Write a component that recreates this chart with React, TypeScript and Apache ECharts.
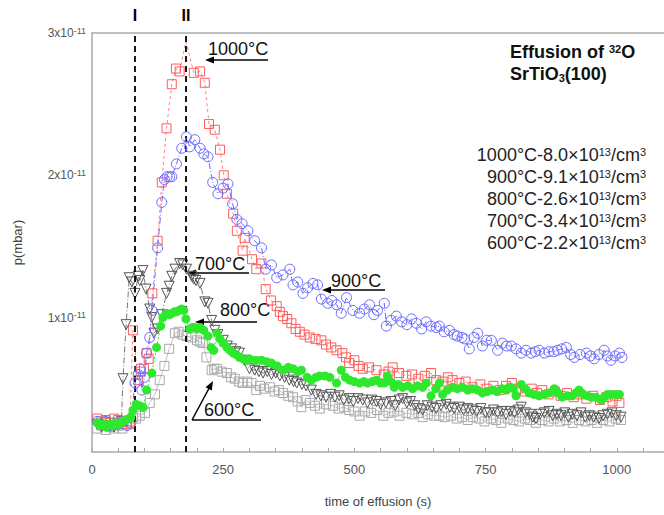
import React, { useEffect, useRef } from 'react';
import * as echarts from 'echarts';

const FONT = '"Liberation Sans", Arial, Helvetica, sans-serif';

// values in units of 1e-11 mbar, time in s
const s1000: number[][] = [
  [10,0.29],[18,0.27],[26,0.28],[34,0.26],[42,0.29],[50,0.28],[58,0.25],[66,0.27],[72,0.25],[78,0.91],[88,0.56],[93,0.62],[99,0.64],[104,0.75],[108,0.71],[115,1.17],[125,1.54],[133,1.95],[142,2.33],[152,2.64],[160,2.75],[167,2.73],[179,2.94],[194,2.72],[206,2.73],[215,2.65],[223,2.36],[234,2.32],[244,2.18],[251,2.0],[257,1.87],[269,1.73],[276,1.61],[287,1.47],[291,1.56],[305,1.41],[313,1.34],[323,1.38],[331,1.2],[341,1.12],[352,1.08],[358,1.04],[364,1.01],[372,0.99],[380,0.96],[388,0.92],[396,0.90],[405,0.88],[415,0.86],[426,0.85],[437,0.84],[446,0.81],[456,0.79],[466,0.77],[477,0.75],[484,0.72],[490,0.68],[500,0.70],[508,0.66],[516,0.64],[528,0.65],[542,0.63],[556,0.60],[565,0.62],[573,0.65],[585,0.61],[599,0.59],[610,0.60],[622,0.57],[634,0.59],[646,0.61],[656,0.56],[668,0.55],[678,0.58],[687,0.56],[700,0.54],[712,0.55],[725,0.51],[740,0.53],[752,0.50],[765,0.52],[777,0.49],[789,0.52],[800,0.54],[812,0.50],[825,0.48],[838,0.50],[848,0.47],[858,0.49],[870,0.46],[882,0.48],[893,0.45],[905,0.47],[918,0.44],[930,0.46],[942,0.43],[955,0.45],[968,0.42],[980,0.44],[992,0.41],[1000,0.45],[1005,0.40]
];

const s900: number[][] = [
  [10,0.27],[18,0.25],[26,0.27],[34,0.24],[42,0.26],[50,0.25],[58,0.27],[66,0.24],[74,0.26],[82,0.54],[88,0.60],[91,0.64],[95,0.49],[100,0.58],[104,0.75],[110,0.86],[114,1.05],[125,1.49],[133,1.81],[138,1.97],[143,1.99],[148,1.99],[152,1.99],[161,2.08],[171,2.19],[180,2.27],[186,2.20],[196,2.25],[206,2.19],[213,2.15],[221,2.13],[230,1.95],[240,1.87],[250,1.91],[259,1.94],[268,1.80],[276,1.69],[286,1.66],[297,1.61],[310,1.54],[323,1.49],[331,1.34],[342,1.37],[352,1.28],[364,1.30],[377,1.34],[383,1.23],[392,1.25],[402,1.17],[411,1.21],[421,1.24],[430,1.23],[437,1.13],[449,1.10],[457,1.12],[466,1.09],[475,1.03],[485,1.14],[497,1.05],[510,1.03],[519,1.06],[529,1.09],[537,1.02],[544,1.05],[557,1.10],[561,0.94],[570,0.98],[580,1.01],[590,0.97],[600,0.95],[609,0.99],[618,0.96],[628,0.92],[637,0.97],[646,0.94],[656,0.93],[662,0.94],[671,0.90],[681,0.91],[690,0.88],[696,0.87],[705,0.86],[710,0.85],[719,0.78],[728,0.86],[735,0.89],[744,0.80],[752,0.84],[761,0.84],[773,0.77],[782,0.82],[790,0.80],[799,0.80],[808,0.78],[818,0.75],[827,0.77],[837,0.75],[845,0.76],[852,0.77],[862,0.75],[871,0.76],[880,0.76],[887,0.77],[895,0.78],[904,0.79],[912,0.74],[919,0.72],[930,0.74],[942,0.75],[950,0.73],[957,0.71],[966,0.74],[976,0.77],[982,0.73],[989,0.70],[997,0.73],[1005,0.75],[1010,0.72]
];

const s800: number[][] = [
  [10,0.26],[16,0.24],[22,0.25],[28,0.23],[34,0.25],[40,0.24],[46,0.26],[52,0.25],[58,0.27],[64,0.28],[70,0.29],[74,0.30],[78,0.35],[84,0.39],[91,0.38],[97,0.37],[104,0.49],[114,0.61],[123,0.79],[131,0.94],[135,1.0],[142,1.03],[148,1.02],[152,1.03],[157,1.04],[161,1.04],[166,1.05],[171,1.06],[175,1.05],[179,0.99],[186,0.92],[191,0.93],[196,0.93],[201,0.92],[206,0.93],[213,0.91],[221,0.87],[227,0.79],[232,0.77],[238,0.89],[244,0.85],[250,0.82],[257,0.79],[263,0.77],[269,0.75],[275,0.74],[281,0.72],[288,0.71],[294,0.70],[300,0.71],[312,0.70],[323,0.70],[333,0.69],[342,0.68],[353,0.66],[364,0.63],[374,0.65],[383,0.64],[392,0.62],[399,0.63],[410,0.58],[418,0.56],[427,0.58],[434,0.59],[444,0.59],[453,0.58],[466,0.54],[475,0.63],[483,0.58],[491,0.56],[500,0.55],[510,0.54],[518,0.55],[525,0.54],[534,0.55],[542,0.56],[550,0.54],[557,0.54],[563,0.59],[570,0.55],[576,0.51],[584,0.53],[592,0.51],[602,0.52],[611,0.50],[620,0.52],[630,0.51],[637,0.54],[646,0.45],[655,0.50],[662,0.54],[668,0.46],[677,0.49],[687,0.51],[696,0.50],[706,0.51],[716,0.49],[725,0.50],[735,0.49],[744,0.47],[753,0.48],[763,0.49],[772,0.48],[782,0.50],[790,0.49],[795,0.51],[803,0.50],[808,0.45],[818,0.53],[825,0.50],[833,0.47],[842,0.46],[852,0.45],[862,0.46],[871,0.47],[881,0.50],[888,0.47],[896,0.44],[906,0.45],[915,0.45],[922,0.47],[928,0.49],[936,0.46],[944,0.45],[952,0.44],[960,0.44],[970,0.42],[976,0.44],[982,0.46],[990,0.46],[998,0.46],[1005,0.46]
];

const s700: number[][] = [
  [10,0.25],[18,0.23],[26,0.26],[34,0.24],[42,0.23],[50,0.25],[56,0.27],[59,0.57],[65,0.95],[71,1.28],[76,1.25],[82,1.17],[88,1.29],[91,1.26],[97,1.33],[103,1.20],[110,1.06],[114,1.00],[118,0.89],[125,0.92],[133,1.02],[142,1.17],[147,1.22],[152,1.29],[158,1.34],[167,1.38],[173,1.37],[180,1.34],[190,1.29],[194,1.27],[198,1.26],[206,1.24],[215,1.11],[221,1.10],[228,0.98],[234,0.91],[240,0.88],[250,0.84],[258,0.80],[266,0.78],[274,0.76],[281,0.75],[290,0.70],[300,0.64],[310,0.63],[318,0.62],[326,0.61],[334,0.62],[342,0.60],[350,0.61],[358,0.59],[367,0.58],[376,0.56],[384,0.55],[390,0.54],[400,0.53],[408,0.52],[418,0.49],[427,0.46],[436,0.45],[446,0.44],[455,0.46],[463,0.44],[471,0.45],[480,0.42],[490,0.43],[498,0.41],[507,0.43],[516,0.42],[525,0.40],[533,0.42],[542,0.41],[550,0.39],[560,0.40],[570,0.41],[578,0.38],[585,0.42],[592,0.43],[600,0.40],[607,0.41],[615,0.38],[622,0.36],[630,0.35],[639,0.38],[648,0.37],[656,0.36],[665,0.38],[675,0.39],[682,0.37],[690,0.36],[700,0.37],[708,0.35],[716,0.36],[725,0.35],[733,0.34],[741,0.36],[750,0.33],[757,0.33],[765,0.35],[773,0.33],[781,0.34],[789,0.32],[797,0.34],[805,0.33],[812,0.35],[818,0.37],[826,0.33],[834,0.32],[840,0.30],[846,0.29],[854,0.32],[862,0.33],[871,0.34],[878,0.31],[886,0.32],[894,0.31],[901,0.33],[908,0.30],[915,0.32],[924,0.31],[932,0.33],[940,0.30],[948,0.31],[956,0.30],[966,0.29],[974,0.31],[982,0.32],[991,0.33],[999,0.31],[1008,0.30]
];

const s600: number[][] = [
  [10,0.22],[18,0.24],[26,0.21],[34,0.23],[42,0.22],[50,0.24],[58,0.22],[66,0.25],[72,0.27],[78,0.30],[84,0.29],[91,0.31],[101,0.33],[110,0.40],[120,0.46],[129,0.56],[138,0.66],[147,0.78],[158,0.89],[165,0.90],[172,0.88],[180,0.87],[190,0.86],[200,0.84],[206,0.83],[211,0.82],[218,0.72],[228,0.63],[233,0.64],[238,0.64],[247,0.62],[257,0.61],[265,0.58],[272,0.57],[280,0.55],[287,0.54],[296,0.55],[304,0.54],[313,0.49],[320,0.52],[328,0.50],[339,0.51],[348,0.48],[356,0.49],[364,0.47],[374,0.45],[383,0.44],[392,0.41],[399,0.37],[407,0.42],[415,0.40],[425,0.38],[434,0.36],[446,0.39],[459,0.38],[470,0.36],[480,0.37],[490,0.35],[500,0.34],[510,0.31],[520,0.34],[532,0.33],[543,0.35],[555,0.31],[565,0.33],[576,0.34],[586,0.31],[599,0.33],[610,0.32],[622,0.33],[630,0.30],[640,0.32],[652,0.31],[662,0.31],[672,0.30],[684,0.31],[695,0.29],[705,0.30],[716,0.28],[726,0.30],[738,0.29],[748,0.27],[760,0.29],[770,0.28],[780,0.26],[792,0.29],[803,0.28],[814,0.27],[825,0.29],[835,0.28],[846,0.26],[858,0.28],[870,0.27],[880,0.29],[892,0.27],[904,0.28],[916,0.26],[928,0.28],[940,0.27],[952,0.28],[962,0.26],[974,0.28],[986,0.27],[998,0.29],[1008,0.28]
];

const xLabelValues = [0, 250, 500, 750, 1000];
const xTickValues = [0,50,100,150,200,250,300,350,400,450,500,550,600,650,700,750,800,850,900,950,1000,1050];
const yLabelValues = [1, 2, 3];
const stageLines = [{ t: 82, label: 'I' }, { t: 179, label: 'II' }];
const legendTemps = ['1000°C', '900°C', '800°C', '700°C', '600°C'];
const legendDensities = ['8.0', '9.1', '2.6', '3.4', '2.2'];
const annotationLabels = ['1000°C', '700°C', '800°C', '900°C', '600°C'];

export default function App() {
  const ref = useRef<HTMLDivElement>(null);
  useEffect(() => {
    document.body.style.margin = '0';
    document.body.style.overflow = 'hidden';
    const chart = echarts.init(ref.current!, undefined, { renderer: 'svg' });
    const axisGray = '#aaaaaa';
    const labelGray = '#555555';

    const peakIdx = s1000.reduce((bi, p, i, a) => (p[1] > a[bi][1] ? i : bi), 0);

    const open = (color: string) => ({ color: 'rgba(255,255,255,0)', borderColor: color, borderWidth: 1 });

    const legendGraphics = legendTemps.map((tmp, i) => ({
      type: 'text',
      x: 646,
      y: 155 + i * 22,
      style: {
        text: `${tmp}-${legendDensities[i]}×10{sup|13}/cm{sup|3}`,
        align: 'right',
        verticalAlign: 'middle',
        fill: '#222',
        fontSize: 18,
        fontFamily: FONT,
        lineHeight: 18,
        rich: { sup: { fontSize: 11, lineHeight: 11, verticalAlign: 'top', fill: '#222', fontFamily: FONT } },
      },
    }));

    const annPos = [
      [208, 49], [195, 264], [220, 310], [331, 281], [204, 410],
    ];
    const annTexts = annotationLabels.map((t, i) => ({
      type: 'text',
      x: annPos[i][0],
      y: annPos[i][1],
      style: { text: t, align: 'left', verticalAlign: 'middle', fill: '#111', fontSize: 18, fontFamily: FONT },
    }));

    const arrowLeft = (tipX: number, y: number, endX: number) => [
      { type: 'line', shape: { x1: tipX + 6, y1: y, x2: endX, y2: y }, style: { stroke: '#000', lineWidth: 1.5 } },
      { type: 'polygon', shape: { points: [[tipX, y], [tipX + 9, y - 3.5], [tipX + 9, y + 3.5]] }, style: { fill: '#000' } },
    ];

    const arrows = [
      ...arrowLeft(205, 60, 268),
      ...arrowLeft(187, 273, 249),
      ...arrowLeft(195, 322, 257),
      ...arrowLeft(322, 290, 385),
      { type: 'line', shape: { x1: 192, y1: 420, x2: 261, y2: 420 }, style: { stroke: '#000', lineWidth: 1.5 } },
      { type: 'line', shape: { x1: 192, y1: 420, x2: 210, y2: 386.5 }, style: { stroke: '#000', lineWidth: 1.5 } },
      { type: 'polygon', shape: { points: [[213, 381], [211.8, 390.6], [205.6, 387.2]] }, style: { fill: '#000' } },
    ];

    const title = [
      {
        type: 'text', x: 510, y: 52,
        style: {
          text: 'Effusion of {sup|32}O', align: 'left', verticalAlign: 'middle', fill: '#111',
          fontSize: 18, fontWeight: 'bold', fontFamily: FONT, lineHeight: 18,
          rich: { sup: { fontSize: 11, lineHeight: 11, verticalAlign: 'top', fontWeight: 'bold', fill: '#111', fontFamily: FONT } },
        },
      },
      {
        type: 'text', x: 510, y: 74,
        style: {
          text: 'SrTiO{sub|3}(100)', align: 'left', verticalAlign: 'middle', fill: '#111',
          fontSize: 18, fontWeight: 'bold', fontFamily: FONT, lineHeight: 18,
          rich: { sub: { fontSize: 11, lineHeight: 6, verticalAlign: 'bottom', fontWeight: 'bold', fill: '#111', fontFamily: FONT } },
        },
      },
    ];

    chart.setOption({
      animation: false,
      backgroundColor: '#ffffff',
      grid: { left: 92, right: 0, top: 33, bottom: 63 },
      xAxis: [
        {
          type: 'value', min: 0, max: 1090,
          name: 'time of effusion (s)', nameLocation: 'middle', nameGap: 43,
          nameTextStyle: { color: '#444', fontSize: 13, fontFamily: FONT },
          axisLine: { show: true, lineStyle: { color: axisGray, width: 1.5 } },
          axisTick: { show: true, inside: true, length: 4, customValues: xTickValues, lineStyle: { color: axisGray } },
          axisLabel: {
            customValues: xLabelValues, formatter: (v: number) => String(Math.round(v)),
            color: labelGray, fontSize: 13, fontFamily: FONT, margin: 11,
          },
          splitLine: { show: false },
        },
        {
          type: 'value', min: 0, max: 1090, position: 'top',
          axisLine: { show: true, lineStyle: { color: axisGray, width: 1.5 } },
          axisTick: { show: false }, axisLabel: { show: false }, splitLine: { show: false },
        },
      ],
      yAxis: {
        type: 'value', min: 0.055, max: 3,
        name: 'p(mbar)', nameLocation: 'middle', nameGap: 68,
        nameTextStyle: { color: '#444', fontSize: 13, fontFamily: FONT },
        axisLine: { show: true, lineStyle: { color: axisGray, width: 1.5 } },
        axisTick: { show: false },
        axisLabel: {
          customValues: yLabelValues,
          formatter: (v: number) => `${Math.round(v)}x10{sup|-11}`,
          color: labelGray, fontSize: 12, fontFamily: FONT, margin: 6, lineHeight: 14,
          rich: { sup: { fontSize: 9, lineHeight: 9, verticalAlign: 'top', color: labelGray, fontFamily: FONT } },
        },
        splitLine: { show: false },
      },
      series: [
        {
          type: 'line', name: '600°C', data: s600, symbol: 'rect', symbolSize: 9,
          itemStyle: open('#a9a9a9'), lineStyle: { color: '#c4c4c4', width: 1 }, z: 2,
        },
        {
          type: 'line', name: '700°C', data: s700, symbol: 'triangle', symbolRotate: 180, symbolSize: 10,
          itemStyle: open('#555555'), lineStyle: { color: '#777777', width: 1, type: [6, 2, 1, 2] }, z: 3,
        },
        {
          type: 'line', name: '1000°C',
          data: s1000.map((p, i) => (i === peakIdx ? { value: p, symbol: 'none' } : p)),
          symbol: 'rect', symbolSize: 9,
          itemStyle: open('#ff5c5c'), lineStyle: { color: '#ff8080', width: 1, type: [3, 3] }, z: 4,
        },
        {
          type: 'line', name: '900°C', data: s900, symbol: 'circle', symbolSize: 10,
          itemStyle: open('#6a6aff'), lineStyle: { color: '#6a6aff', width: 1, type: [6, 2, 1, 2] }, z: 5,
        },
        {
          type: 'line', name: '800°C', data: s800, symbol: 'circle', symbolSize: 9,
          itemStyle: { color: '#2ee82e', borderWidth: 0 }, lineStyle: { color: '#2ee82e', width: 1, type: [2, 2] }, z: 6,
        },
        {
          type: 'line', name: 'stages', data: [], z: 7,
          markLine: {
            silent: true, symbol: ['none', 'none'], animation: false,
            lineStyle: { color: '#000', type: [6, 4], width: 1.8 },
            label: {
              show: true, position: 'end', distance: 10, formatter: (p: any) => p.name,
              color: '#000', fontWeight: 'bold', fontSize: 16, fontFamily: FONT,
            },
            emphasis: { disabled: true },
            data: stageLines.map((s) => ({ name: s.label, xAxis: s.t })),
          },
        },
      ],
      graphic: [...title, ...legendGraphics, ...annTexts, ...arrows],
    });
    return () => chart.dispose();
  }, []);
  return <div ref={ref} style={{ width: 664, height: 515 }} />;
}
